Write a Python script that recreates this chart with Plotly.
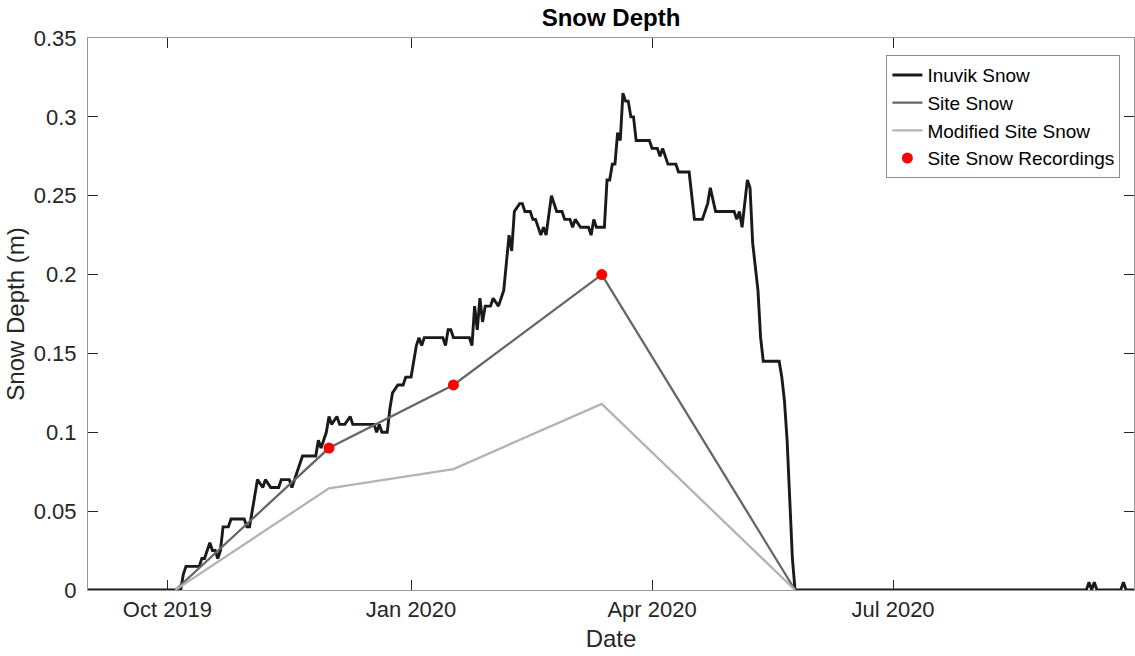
import pandas as pd
import plotly.graph_objects as go

START = "2019-09-01"

# Inuvik snow depth (days since 2019-09-01, metres)
inuvik_days = [0, 34, 35, 36, 37, 42, 43, 44, 46, 47, 48, 49, 50, 51, 53, 54, 59, 60, 61,
               64, 66, 67, 69, 72, 73, 76, 77, 81, 86, 87, 88, 90, 91, 92, 94, 95, 97, 99,
               100, 108, 109, 110, 111, 113, 114, 115, 117, 119, 120, 122, 124, 125, 126,
               127, 134, 135, 136, 137, 138, 144, 145, 146, 147, 148, 149, 150, 152, 153,
               155, 157, 158, 159, 160, 161, 163, 164, 165, 167, 168, 169, 171, 172, 173,
               175, 177, 179, 180, 182, 183, 184, 186, 189, 190, 191, 192, 195, 196, 197,
               198, 199, 200, 201, 202, 203, 204, 205, 206, 207, 208, 212, 213, 215, 216,
               217, 219, 222, 223, 227, 229, 232, 234, 235, 237, 244, 245, 246, 247, 249,
               250, 251, 253, 254, 255, 261, 262, 263, 264, 265, 266, 267, 377, 378, 379,
               380, 381, 390, 391, 392, 395]
inuvik_vals = [0, 0, 0, 0.01, 0.015, 0.015, 0.02, 0.02, 0.03, 0.025, 0.025, 0.02, 0.025, 0.04,
               0.04, 0.045, 0.045, 0.04, 0.04, 0.07, 0.065, 0.07, 0.065, 0.065, 0.07, 0.07,
               0.065, 0.085, 0.085, 0.095, 0.09, 0.1, 0.11, 0.105, 0.11, 0.105, 0.105, 0.11,
               0.105, 0.105, 0.1, 0.105, 0.1, 0.1, 0.115, 0.125, 0.13, 0.13, 0.135, 0.135,
               0.155, 0.16, 0.155, 0.16, 0.16, 0.155, 0.165, 0.165, 0.16, 0.16, 0.155, 0.18,
               0.165, 0.185, 0.17, 0.18, 0.18, 0.185, 0.18, 0.19, 0.21, 0.225, 0.215, 0.24,
               0.245, 0.245, 0.24, 0.24, 0.235, 0.235, 0.225, 0.23, 0.225, 0.25, 0.24, 0.24,
               0.235, 0.235, 0.23, 0.235, 0.23, 0.23, 0.225, 0.235, 0.23, 0.23, 0.26, 0.26,
               0.27, 0.27, 0.29, 0.285, 0.315, 0.31, 0.31, 0.30, 0.30, 0.285, 0.285, 0.285,
               0.28, 0.28, 0.275, 0.28, 0.27, 0.27, 0.265, 0.265, 0.235, 0.235, 0.245, 0.255,
               0.24, 0.24, 0.235, 0.24, 0.23, 0.26, 0.255, 0.22, 0.19, 0.16, 0.145, 0.145,
               0.135, 0.12, 0.095, 0.06, 0.02, 0, 0, 0.005, 0, 0.005, 0, 0, 0.005, 0, 0]

# Site snow (dates, metres)
site_dates = ["2019-10-04", "2019-12-01", "2020-01-17", "2020-03-13", "2020-05-25"]
site_vals = [0, 0.09, 0.13, 0.20, 0]
modified_vals = [0, 0.0645, 0.0767, 0.118, 0]

rec_dates = ["2019-12-01", "2020-01-17", "2020-03-13"]
rec_vals = [0.09, 0.13, 0.20]

tick_dates = ["2019-10-01", "2020-01-01", "2020-04-01", "2020-07-01"]
tick_text = ["Oct 2019", "Jan 2020", "Apr 2020", "Jul 2020"]
x_range = ["2019-09-01", "2020-09-30"]

inuvik_dates = pd.Timestamp(START) + pd.to_timedelta(inuvik_days, unit="D")

FONT = "Liberation Sans, Arial, Helvetica, sans-serif"
TXT = "#262626"

fig = go.Figure()
fig.add_trace(go.Scatter(x=inuvik_dates, y=inuvik_vals, mode="lines", name="Inuvik Snow",
                         line=dict(color="#1a1a1a", width=2.9)))
fig.add_trace(go.Scatter(x=site_dates, y=site_vals, mode="lines", name="Site Snow",
                         line=dict(color="#666666", width=2.3)))
fig.add_trace(go.Scatter(x=site_dates, y=modified_vals, mode="lines", name="Modified Site Snow",
                         line=dict(color="#b3b3b3", width=2.3)))
fig.add_trace(go.Scatter(x=rec_dates, y=rec_vals, mode="markers", name="Site Snow Recordings",
                         marker=dict(color="#ff0000", size=11)))

fig.update_layout(
    width=1135, height=656,
    margin=dict(l=88, r=1, t=38, b=66),
    paper_bgcolor="white", plot_bgcolor="white",
    font=dict(family=FONT, size=22, color=TXT),
    title=dict(text="<b>Snow Depth</b>", x=0.5, xref="paper", y=1 - 18 / 656,
               yref="container", xanchor="center", yanchor="middle",
               font=dict(size=24, color="#000000", family=FONT)),
    showlegend=True,
    legend=dict(x=0.987, y=0.969, xanchor="right", yanchor="top",
                bgcolor="white", bordercolor="#8c8c8c", borderwidth=1,
                font=dict(size=19, color="#000000", family=FONT),
                itemwidth=30, tracegroupgap=0),
)
fig.update_xaxes(
    range=x_range, tickvals=tick_dates, ticktext=tick_text,
    showgrid=False, zeroline=False,
    showline=True, linecolor="#999999", linewidth=1, mirror="allticks",
    ticks="inside", ticklen=10, tickcolor="#262626", tickwidth=1,
    tickfont=dict(size=22, color=TXT),
    title=dict(text="Date", font=dict(size=24, color=TXT), standoff=8),
)
fig.update_yaxes(
    range=[0, 0.35], tick0=0, dtick=0.05,
    showgrid=False, zeroline=False,
    showline=True, linecolor="#999999", linewidth=1, mirror="allticks",
    ticks="inside", ticklen=10, tickcolor="#262626", tickwidth=1,
    tickfont=dict(size=22, color=TXT), ticklabelstandoff=6,
    title=dict(text="Snow Depth (m)", font=dict(size=24, color=TXT), standoff=2),
)

fig.write_html("out.html")
